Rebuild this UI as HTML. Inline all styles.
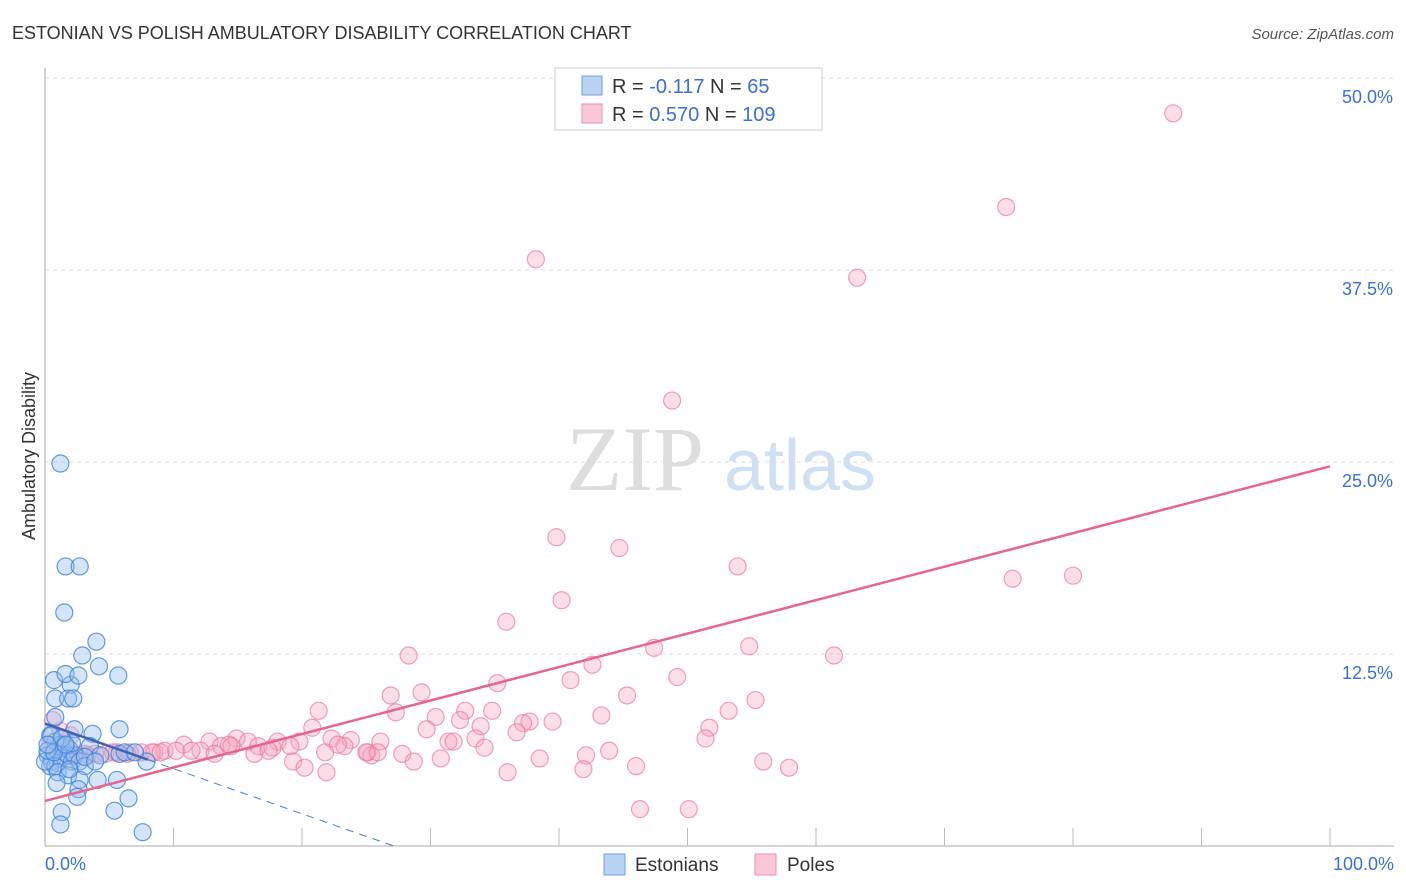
<!DOCTYPE html>
<html><head><meta charset="utf-8">
<style>
body{margin:0;background:#fff;font-family:"Liberation Sans",sans-serif;}
#wrap{position:relative;width:1406px;height:892px;overflow:hidden;}
</style></head>
<body>
<div id="wrap">
<svg id="chart" width="1406" height="892" xmlns="http://www.w3.org/2000/svg">
<text x="12" y="39" font-size="18" fill="#333">ESTONIAN VS POLISH AMBULATORY DISABILITY CORRELATION CHART</text>
<text x="1394" y="39" font-size="15" fill="#555" font-style="italic" text-anchor="end">Source: ZipAtlas.com</text>
<text x="35" y="456" font-size="18" fill="#333" text-anchor="middle" transform="rotate(-90 35 456)">Ambulatory Disability</text>
<g>
<text x="635" y="490" font-size="92" fill="#ddd" font-family="Liberation Serif,serif" text-anchor="middle">ZIP</text>
<text x="800" y="490" font-size="72" fill="#cfe0f3" text-anchor="middle">atlas</text>
</g>
<g id="grid"></g><g id="axes"></g><g id="pts"></g><g id="lines"></g>
<g>
<rect x="555" y="68" width="267" height="62" fill="#fff" stroke="#ccc"/>
<rect x="582" y="76" width="20" height="19" fill="#b9d3f3" stroke="#6fa0e0"/>
<text x="612" y="93" font-size="20" fill="#333">R = <tspan fill="#3a6fd8">-0.117</tspan>   N = <tspan fill="#3a6fd8"> 65</tspan></text>
<rect x="582" y="104" width="20" height="19" fill="#f9c7d6" stroke="#ee8faf"/>
<text x="612" y="121" font-size="20" fill="#333">R = <tspan fill="#3a6fd8">0.570</tspan>   N = <tspan fill="#3a6fd8">109</tspan></text>
</g>
<g>
<rect x="604" y="854" width="21" height="21" fill="#b9d3f3" stroke="#6fa0e0"/>
<text x="635" y="871" font-size="19" fill="#333">Estonians</text>
<rect x="755" y="854" width="21" height="21" fill="#f9c7d6" stroke="#ee8faf"/>
<text x="787" y="871" font-size="19" fill="#333">Poles</text>
</g>
</svg>
</div>
<script>
const yTicks=[12.5,25,37.5,50];
const yTickLabels=["12.5%","25.0%","37.5%","50.0%"];
const xTickLabels=["0.0%","100.0%"];
const estX=[1.2,1.6,2.7,1.5,4.0,2.9,4.2,0.7,2.0,1.6,2.6,5.7,0.8,1.8,2.2,5.8,3.7,2.3,0.8,0.4,0.8,1.2,1.6,1.9,0.2,0.5,1.0,1.3,1.8,2.1,0.4,0.8,2.3,2.7,3.1,3.5,4.3,7.9,1.0,1.8,0.9,2.7,4.1,5.6,2.6,2.5,6.5,1.3,5.4,1.2,7.6,3.1,0.0,0.2,0.5,2.1,1.3,1.9,0.7,1.6,5.8,6.2,7.0,0.2,3.9];
const estY=[24.9,18.2,18.2,15.2,13.3,12.4,11.7,10.8,10.5,11.2,11.1,11.1,9.6,9.6,9.6,7.6,7.3,7.6,8.4,7.2,6.8,6.6,6.5,6.3,5.9,5.5,5.4,5.7,5.9,5.5,5.2,5.2,5.9,5.5,5.2,6.5,5.9,5.5,4.8,4.6,4.1,4.3,4.3,4.3,3.7,3.2,3.1,2.2,2.3,1.4,0.9,5.8,5.5,6.2,7.2,6.7,7.0,5.0,6.1,6.6,6.0,6.1,6.1,6.6,5.5];
const polX=[87.8,74.8,38.2,63.2,48.8,39.8,44.7,53.9,75.3,80.0,40.2,35.9,47.4,54.8,61.4,28.3,42.6,35.2,49.2,40.9,29.3,26.9,45.3,55.3,21.3,27.3,53.2,43.3,30.4,32.7,34.8,32.3,37.7,39.5,20.8,33.9,37.2,29.7,51.7,36.7,22.3,51.4,23.8,33.5,14.9,26.1,31.4,12.8,31.8,18.1,10.8,19.8,15.8,19.1,23.3,16.6,13.7,14.5,17.7,12.1,9.3,10.2,11.4,7.5,8.5,6.6,5.6,4.7,3.9,3.1,2.3,1.6,0.8,0.4,1.2,2.0,25.1,27.8,43.9,25.4,34.2,42.1,30.8,16.3,17.4,13.2,6.4,3.3,2.2,19.3,28.7,38.5,55.9,20.2,21.9,36.0,41.9,46.0,57.9,46.3,50.1,5.3,8.3,9.0,14.3,21.8,22.8,25.0,25.9,0.6];
const polY=[47.7,41.6,38.2,37.0,29.0,20.1,19.4,18.2,17.4,17.6,16.0,14.6,12.9,13.0,12.4,12.4,11.8,10.6,11.0,10.8,10.0,9.8,9.8,9.5,8.8,8.7,8.8,8.5,8.4,8.8,8.8,8.2,8.1,8.1,7.7,7.8,8.0,7.6,7.7,7.4,7.0,7.0,6.9,7.0,7.0,6.8,6.8,6.8,6.8,6.8,6.6,6.8,6.8,6.5,6.5,6.5,6.5,6.5,6.4,6.2,6.2,6.2,6.2,6.1,6.1,6.1,6.1,6.0,6.0,6.0,6.0,6.1,6.2,6.6,7.5,7.2,6.1,6.0,6.2,5.9,6.4,5.9,5.7,6.0,6.2,6.0,6.0,5.9,5.8,5.5,5.5,5.7,5.5,5.1,4.8,4.8,5.0,5.2,5.1,2.4,2.4,6.1,6.1,6.1,6.6,6.1,6.6,6.1,6.1,8.2,8.7];
const NS="http://www.w3.org/2000/svg";
const X0=45,X1=1330,Y0=846,Y50=78;
const sx=v=>X0+(X1-X0)*v/100;
const sy=v=>Y0-(Y0-Y50)*v/50;
function mk(tag,attrs,parent){const e=document.createElementNS(NS,tag);for(const k in attrs)e.setAttribute(k,attrs[k]);parent.appendChild(e);return e;}
const grid=document.getElementById('grid'),axes=document.getElementById('axes'),pts=document.getElementById('pts'),lines=document.getElementById('lines');
yTicks.forEach((t,i)=>{
 const l=mk('line',{x1:X0,x2:1394,y1:sy(t),y2:sy(t),stroke:'#ddd','stroke-dasharray':'4,4'},grid);
 
 
 const tx=mk('text',{x:1393,y:sy(t)+25,'font-size':18,fill:'#3a6fd8','text-anchor':'end'},axes);
 tx.textContent=yTickLabels[i];
 
 
});
let a=mk('line',{x1:X0,x2:X0,y1:68,y2:Y0,stroke:'#aaa'},axes);


a=mk('line',{x1:X0,x2:1394,y1:Y0,y2:Y0,stroke:'#aaa'},axes);


for(let i=1;i<=10;i++){const t=mk('line',{x1:sx(i*10),x2:sx(i*10),y1:828,y2:Y0,stroke:'#bbb'},axes);
 
 }
[[0,'start',X0],[1,'end',1394]].forEach(([i,anc,x])=>{const t=mk('text',{x:x,y:870,'font-size':18,fill:'#3a6fd8','text-anchor':anc},axes);t.textContent=xTickLabels[i];
 
 });
polX.forEach((v,i)=>{const c=mk('circle',{cx:sx(v),cy:sy(polY[i]),r:8.5,fill:'rgba(246,160,188,0.35)',stroke:'rgba(234,120,158,0.7)','stroke-width':1.2},pts);
 
 });
estX.forEach((v,i)=>{const c=mk('circle',{cx:sx(v),cy:sy(estY[i]),r:8.5,fill:'rgba(150,190,240,0.4)',stroke:'rgba(60,130,220,0.8)','stroke-width':1.2},pts);
 
 });
function fit(xs,ys){const n=xs.length;let mx=0,my=0;xs.forEach((x,i)=>{mx+=x;my+=ys[i];});mx/=n;my/=n;let sxy=0,sxx=0;xs.forEach((x,i)=>{sxy+=(x-mx)*(ys[i]-my);sxx+=(x-mx)**2;});const b=sxy/sxx;return [my-b*mx,b];}
const [pa,pb]=fit(polX,polY);
let L=mk('line',{x1:sx(0),y1:sy(pa),x2:sx(100),y2:sy(pa+pb*100),stroke:'#e8638f','stroke-width':2.5},lines);


const [ea,eb]=fit(estX,estY);
const xEnd=Math.min(100,-ea/eb);
L=mk('line',{x1:sx(8),y1:sy(ea+eb*8),x2:sx(xEnd),y2:sy(ea+eb*xEnd),stroke:'#4a7fd0','stroke-width':1,'stroke-dasharray':'8,6'},lines);


L=mk('line',{x1:sx(0),y1:sy(ea),x2:sx(8),y2:sy(ea+eb*8),stroke:'#3f63b8','stroke-width':2.5},lines);


</script>
</body></html>
